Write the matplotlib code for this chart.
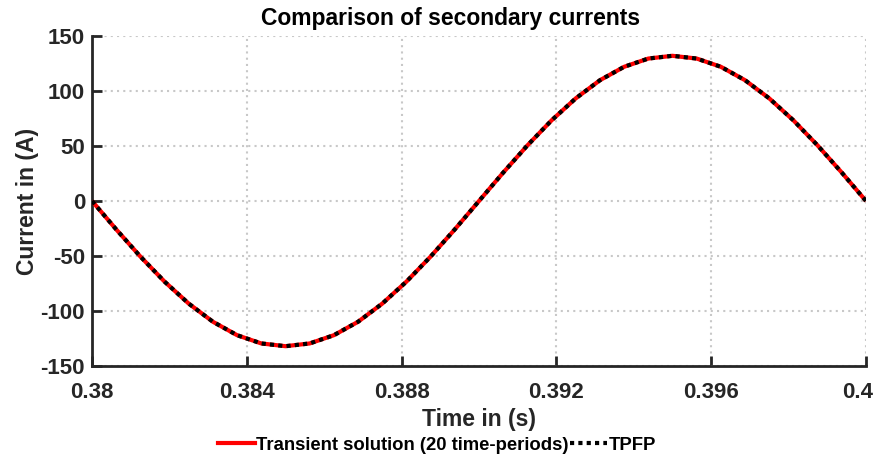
import matplotlib
matplotlib.use("Agg")
import matplotlib.pyplot as plt
import matplotlib.transforms as mtransforms
from matplotlib.lines import Line2D

plt.rcParams['font.family'] = ['Liberation Sans', 'DejaVu Sans']
plt.rcParams['font.weight'] = 'bold'

# Time samples (s): 32 steps over one 50 Hz period
time_s = [0.380000, 0.380625, 0.381250, 0.381875, 0.382500, 0.383125, 0.383750,
          0.384375, 0.385000, 0.385625, 0.386250, 0.386875, 0.387500, 0.388125,
          0.388750, 0.389375, 0.390000, 0.390625, 0.391250, 0.391875, 0.392500,
          0.393125, 0.393750, 0.394375, 0.395000, 0.395625, 0.396250, 0.396875,
          0.397500, 0.398125, 0.398750, 0.399375, 0.400000]

# Secondary current, transient solution (A)
transient_a = [0.0, -25.8, -50.5, -73.3, -93.3, -109.8, -122.0, -129.5, -132.0,
               -129.5, -122.0, -109.8, -93.3, -73.3, -50.5, -25.8, 0.0,
               25.8, 50.5, 73.3, 93.3, 109.8, 122.0, 129.5, 132.0,
               129.5, 122.0, 109.8, 93.3, 73.3, 50.5, 25.8, 0.0]

# Secondary current, TPFP method (A)
tpfp_a = [0.0, -25.8, -50.5, -73.3, -93.3, -109.8, -122.0, -129.5, -132.0,
          -129.5, -122.0, -109.8, -93.3, -73.3, -50.5, -25.8, 0.0,
          25.8, 50.5, 73.3, 93.3, 109.8, 122.0, 129.5, 132.0,
          129.5, 122.0, 109.8, 93.3, 73.3, 50.5, 25.8, 0.0]

x_ticks = [0.38, 0.384, 0.388, 0.392, 0.396, 0.4]
x_tick_labels = ['0.38', '0.384', '0.388', '0.392', '0.396', '0.4']
y_ticks = [-150, -100, -50, 0, 50, 100, 150]
y_tick_labels = ['-150', '-100', '-50', '0', '50', '100', '150']

W, H = 877, 455
fig = plt.figure(figsize=(W / 100, H / 100), dpi=100)
ax = fig.add_axes([92 / W, 1 - 366 / H, (866 - 92) / W, (366 - 36) / H])

axis_col = '#262626'

ax.plot(time_s, transient_a, color='#ff0000', lw=3.0, solid_capstyle='butt',
        label='Transient solution (20 time-periods)', zorder=3)
ax.plot(time_s, tpfp_a, color='black', lw=3.0, linestyle=(0, (1, 1)),
        dash_capstyle='butt', label='TPFP', zorder=4)

ax.set_xlim(0.38, 0.4)
ax.set_ylim(-150, 150)
ax.set_xticks(x_ticks)
ax.set_xticklabels(x_tick_labels)
ax.set_yticks(y_ticks)
ax.set_yticklabels(y_tick_labels)

ax.grid(True, color='#c8c8c8', linestyle=(0, (1, 2)), lw=1.5)
ax.set_axisbelow(True)

for side in ('top', 'right'):
    ax.spines[side].set_visible(False)
for side in ('left', 'bottom'):
    ax.spines[side].set_color(axis_col)
    ax.spines[side].set_linewidth(2.0)

ax.tick_params(direction='in', length=7, width=2.0, colors=axis_col, labelsize=16)
ax.tick_params(axis='y', pad=5)
ax.tick_params(axis='x', pad=11.5)
for lab in ax.get_xticklabels() + ax.get_yticklabels():
    lab.set_fontweight('bold')

# keep the last x tick label inside the figure
last = ax.get_xticklabels()[-1]
last.set_transform(last.get_transform() + mtransforms.ScaledTranslation(-8 / 100, 0, fig.dpi_scale_trans))

ax.set_xlabel('Time in (s)', fontsize=16.5, fontweight='bold', color=axis_col, labelpad=3.5)
ax.set_ylabel('Current in (A)', fontsize=16.5, fontweight='bold', color=axis_col, labelpad=1)

fig.text(451 / W, 1 - 18 / H, 'Comparison of secondary currents', ha='center',
         va='center', fontsize=16.5, fontweight='bold', color='black')

handles = [Line2D([], [], color='#ff0000', lw=3.0),
           Line2D([], [], color='black', lw=3.0, linestyle=(0, (1, 1)))]
leg = fig.legend(handles, ['Transient solution (20 time-periods)', 'TPFP'],
                 loc='center', bbox_to_anchor=(437 / W, 1 - 445 / H), ncol=2,
                 frameon=False, handlelength=2.0, handletextpad=0.05,
                 columnspacing=0.1, prop={'weight': 'bold', 'size': 13.3})

fig.savefig('out.png', dpi=100, facecolor='white')
